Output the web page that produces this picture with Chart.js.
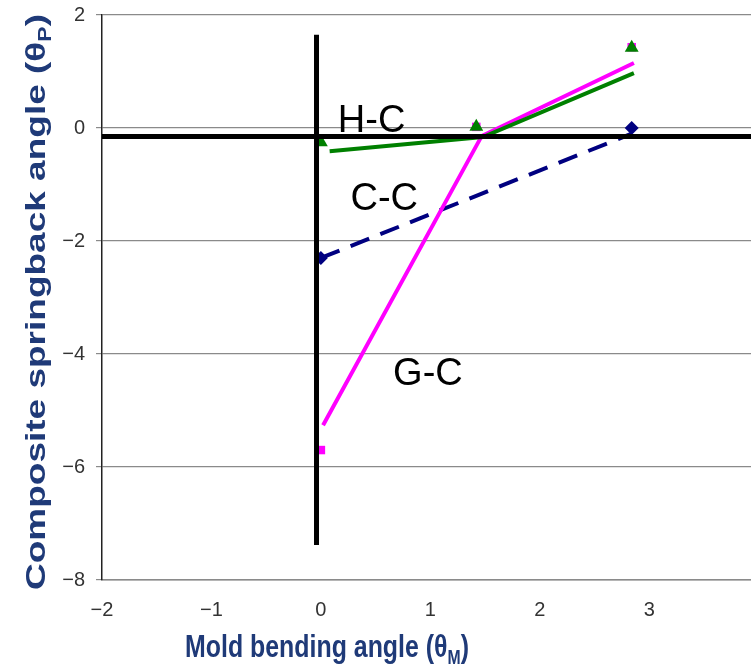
<!DOCTYPE html>
<html>
<head>
<meta charset="utf-8">
<script src="https://cdn.jsdelivr.net/npm/chart.js@4/dist/chart.umd.min.js"></script>
<style>
html,body{margin:0;padding:0;background:#fff;overflow:hidden;}
#wrap{width:751px;height:667px;position:relative;}
</style>
</head>
<body>
<div id="wrap"><canvas id="c" width="751" height="667"></canvas></div>
<script>
// ---- data ----
const markerX = [0, 1.42, 2.84];
const hcMarkY = [-0.25, 0.02, 1.42];
const gcMarkY = [-5.7, 0.02, 1.43];
const ccMarkX = [0, 2.84];
const ccMarkY = [-2.3, 0];

const hcLineX = [0.08, 1.48, 2.86];
const hcLineY = [-0.41, -0.16, 0.97];
const gcLineX = [0.02, 1.47, 2.86];
const gcLineY = [-5.26, -0.14, 1.15];
const ccLineX = [0, 2.84];
const ccLineY = [-2.3, -0.1];

const axisHX = [-2, 3.93];
const axisHY = [-0.15, -0.15];
const axisVX = [-0.04, -0.04];
const axisVY = [1.65, -7.38];

const seriesLabels = ['H-C', 'C-C', 'G-C'];
const labelX = [0.155, 0.27, 0.66];
const labelY = [-0.07, -1.45, -4.55];

const xTicks = [-2, -1, 0, 1, 2, 3];
const yTicks = [-8, -6, -4, -2, 0, 2];

const pts = (xs, ys) => xs.map((x, i) => ({x: x, y: ys[i]}));

const titleColor = '#1F3A78';

function drawSubText(ctx, main, sub, tail, size, subSize) {
  ctx.font = 'bold ' + size + 'px "Liberation Sans", Arial, sans-serif';
  const w1 = ctx.measureText(main).width;
  const w3 = ctx.measureText(tail).width;
  ctx.font = 'bold ' + subSize + 'px "Liberation Sans", Arial, sans-serif';
  const w2 = ctx.measureText(sub).width;
  const total = w1 + w2 + w3;
  let x = -total / 2;
  ctx.textBaseline = 'alphabetic';
  ctx.textAlign = 'left';
  ctx.fillStyle = titleColor;
  ctx.font = 'bold ' + size + 'px "Liberation Sans", Arial, sans-serif';
  ctx.fillText(main, x, 0);
  x += w1;
  ctx.font = 'bold ' + subSize + 'px "Liberation Sans", Arial, sans-serif';
  ctx.fillText(sub, x, size * 0.22);
  x += w2;
  ctx.font = 'bold ' + size + 'px "Liberation Sans", Arial, sans-serif';
  ctx.fillText(tail, x, 0);
}

const overlay = {
  id: 'overlay',
  afterDraw(chart) {
    const ctx = chart.ctx;
    const xs = chart.scales.x, ys = chart.scales.y;
    // series labels
    ctx.save();
    ctx.fillStyle = '#000';
    ctx.font = '38px "Liberation Sans", Arial, sans-serif';
    ctx.textAlign = 'left';
    ctx.textBaseline = 'alphabetic';
    seriesLabels.forEach((t, i) => {
      ctx.fillText(t, xs.getPixelForValue(labelX[i]), ys.getPixelForValue(labelY[i]));
    });
    ctx.restore();
    // x title
    ctx.save();
    ctx.translate(327, 657);
    ctx.scale(0.83, 1.03);
    drawSubText(ctx, 'Mold bending angle (θ', 'M', ')', 30, 19);
    ctx.restore();
    // y title
    ctx.save();
    ctx.translate(45, 302);
    ctx.rotate(-Math.PI / 2);
    ctx.scale(1, 0.76);
    drawSubText(ctx, 'Composite springback angle (θ', 'P', ')', 37, 23);
    ctx.restore();
  }
};

const minus = v => String(v).replace('-', '\u2212');

new Chart(document.getElementById('c'), {
  type: 'scatter',
  data: {
    datasets: [
      {data: pts(axisHX, axisHY), showLine: true, borderColor: '#000', borderWidth: 5, pointRadius: 0, order: 0},
      {data: pts(axisVX, axisVY), showLine: true, borderColor: '#000', borderWidth: 5, pointRadius: 0, order: 0},
      {label: 'H-C', data: pts(markerX, hcMarkY), pointStyle: 'triangle', pointRadius: 8, backgroundColor: '#008000', borderColor: '#008000', borderWidth: 0, order: 1},
      {label: 'G-C', data: pts(markerX, gcMarkY), pointStyle: 'rect', pointRadius: 6, backgroundColor: '#FF00FF', borderColor: '#FF00FF', borderWidth: 0, order: 2},
      {label: 'C-C', data: pts(ccMarkX, ccMarkY), pointStyle: 'rectRot', pointRadius: 7, backgroundColor: '#000080', borderColor: '#000080', borderWidth: 0, order: 2},
      {data: pts(gcLineX, gcLineY), showLine: true, borderColor: '#FF00FF', borderWidth: 4, pointRadius: 0, order: 4},
      {data: pts(hcLineX, hcLineY), showLine: true, borderColor: '#008000', borderWidth: 4, pointRadius: 0, order: 3},
      {data: pts(ccLineX, ccLineY), showLine: true, borderColor: '#000080', borderWidth: 4, borderDash: [20, 12], pointRadius: 0, order: 5}
    ]
  },
  options: {
    responsive: false,
    animation: false,
    events: [],
    layout: {autoPadding: false, padding: {top: 15, right: 0, left: 0, bottom: 0}},
    plugins: {legend: {display: false}, tooltip: {enabled: false}},
    scales: {
      x: {
        type: 'linear', min: -2, max: 3.93,
        afterBuildTicks: s => { s.ticks = xTicks.map(v => ({value: v})); },
        afterFit: s => { s.height = 87; s.paddingRight = 0; s.paddingLeft = 0; },
        grid: {display: false},
        border: {display: true, color: '#8a8a8a', width: 1.5},
        ticks: {padding: 10, color: '#333', font: {family: '"Liberation Sans", Arial, sans-serif', size: 20}, callback: v => minus(v), maxRotation: 0}
      },
      y: {
        type: 'linear', min: -8, max: 2,
        afterBuildTicks: s => { s.ticks = yTicks.map(v => ({value: v})); },
        afterFit: s => { s.width = 102; s.paddingTop = 0; s.paddingBottom = 0; },
        grid: {color: '#8a8a8a', lineWidth: 1.2, tickLength: 6, drawTicks: true},
        border: {display: true, color: '#222', width: 1.5},
        ticks: {padding: 11, color: '#333', font: {family: '"Liberation Sans", Arial, sans-serif', size: 20}, callback: v => minus(v)}
      }
    }
  },
  plugins: [overlay]
});
</script>
</body>
</html>
